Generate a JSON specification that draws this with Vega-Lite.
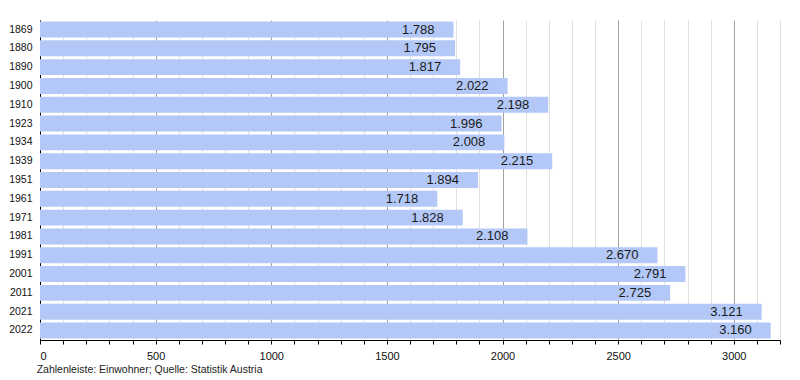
{
  "$schema": "https://vega.github.io/schema/vega-lite/v6.json",
  "width": 740,
  "height": 320,
  "autosize": {"type": "none"},
  "padding": {"left": 40, "top": 20, "right": 20, "bottom": 40},
  "background": "white",
  "config": {
    "view": {"stroke": null},
    "font": "Liberation Sans",
    "locale": {"number": {"decimal": ",", "thousands": ".", "grouping": [3], "currency": ["", " €"]}}
  },
  "title": {
    "text": "Zahlenleiste: Einwohner; Quelle: Statistik Austria",
    "orient": "bottom",
    "anchor": "start",
    "fontSize": 10.5,
    "fontWeight": "normal",
    "color": "#222",
    "offset": 4,
    "dx": 28
  },
  "data": {
    "values": [
      {"Jahr": "1869", "Einwohner": 1788},
      {"Jahr": "1880", "Einwohner": 1795},
      {"Jahr": "1890", "Einwohner": 1817},
      {"Jahr": "1900", "Einwohner": 2022},
      {"Jahr": "1910", "Einwohner": 2198},
      {"Jahr": "1923", "Einwohner": 1996},
      {"Jahr": "1934", "Einwohner": 2008},
      {"Jahr": "1939", "Einwohner": 2215},
      {"Jahr": "1951", "Einwohner": 1894},
      {"Jahr": "1961", "Einwohner": 1718},
      {"Jahr": "1971", "Einwohner": 1828},
      {"Jahr": "1981", "Einwohner": 2108},
      {"Jahr": "1991", "Einwohner": 2670},
      {"Jahr": "2001", "Einwohner": 2791},
      {"Jahr": "2011", "Einwohner": 2725},
      {"Jahr": "2021", "Einwohner": 3121},
      {"Jahr": "2022", "Einwohner": 3160}
    ]
  },
  "encoding": {
    "y": {
      "field": "Jahr",
      "type": "ordinal",
      "sort": null,
      "scale": {"paddingInner": 0.15, "paddingOuter": 0.08},
      "axis": {
        "title": null,
        "ticks": false,
        "domainColor": "#000",
        "labelFontSize": 10.5,
        "labelColor": "#111",
        "labelPadding": 8
      }
    },
    "x": {
      "field": "Einwohner",
      "type": "quantitative",
      "scale": {"domain": [0, 3200], "nice": false},
      "axis": {
        "title": null,
        "values": [0,100,200,300,400,500,600,700,800,900,1000,1100,1200,1300,1400,1500,1600,1700,1800,1900,2000,2100,2200,2300,2400,2500,2600,2700,2800,2900,3000,3100,3200],
        "labelExpr": "datum.value % 500 === 0 ? datum.value + '' : ''",
        "grid": true,
        "gridColor": {"condition": {"test": "datum.value % 500 === 0", "value": "#a0a0a0"}, "value": "#e0e0e0"},
        "domainColor": "#000",
        "tickColor": "#000",
        "tickSize": 4,
        "labelFontSize": 11,
        "labelColor": "#111",
        "labelPadding": 6
      }
    }
  },
  "layer": [
    {
      "mark": {"type": "bar", "color": "#b3c8f7"}
    },
    {
      "mark": {"type": "text", "align": "right", "baseline": "middle", "dx": -19, "fontSize": 13, "color": "#1a1a1a"},
      "encoding": {
        "text": {"field": "Einwohner", "type": "quantitative", "format": ",d"}
      }
    }
  ]
}
